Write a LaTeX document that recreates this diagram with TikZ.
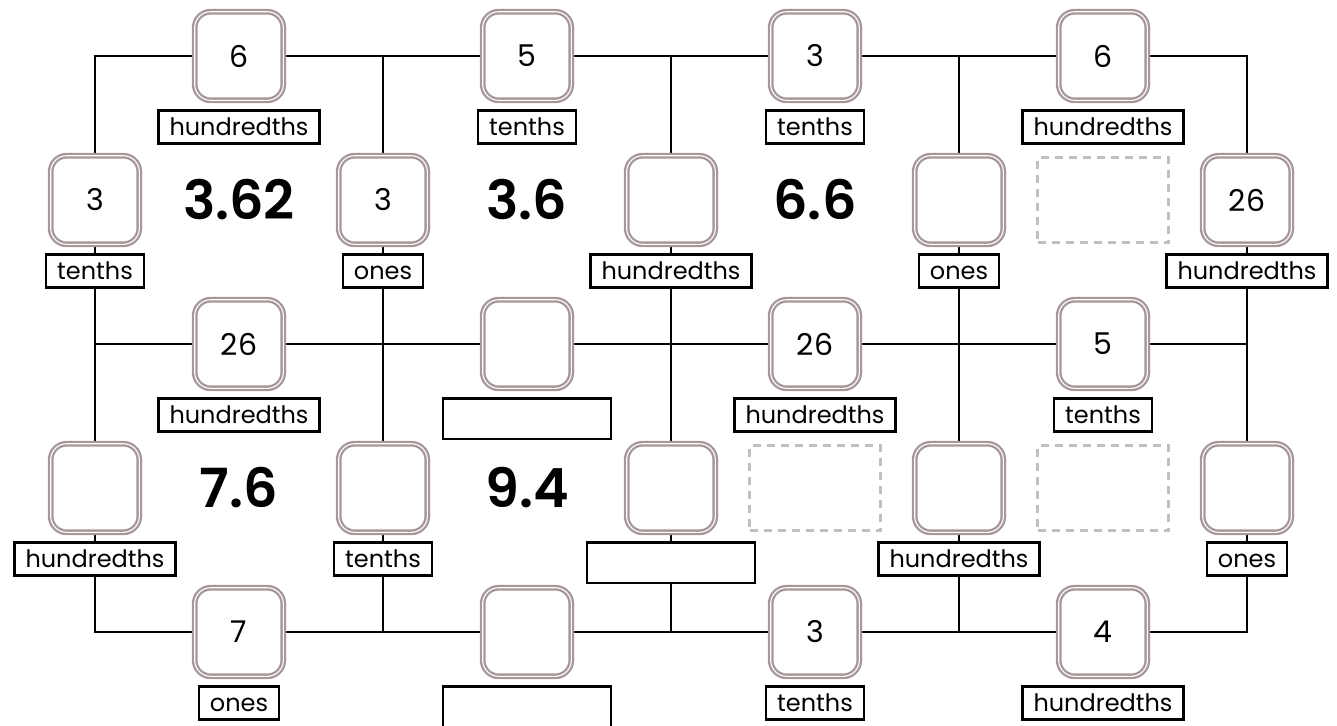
\documentclass[tikz,border=0pt]{standalone}
\usepackage{fontspec}
\setmainfont{Poppins}
\newfontfamily\bignumfont{Poppins SemiBold}
\usetikzlibrary{positioning,backgrounds}
\definecolor{framegray}{RGB}{166,152,152}
\definecolor{dashgray}{RGB}{192,192,192}

\begin{document}
\begin{tikzpicture}[x=0.5pt,y=-0.5pt,
  digitbox/.style={draw=framegray,double=white,line width=1.15pt,double distance=0.55pt,
    fill=white,rounded corners=8pt,minimum size=44.3pt,inner sep=0pt,
    font=\fontsize{15}{15}\selectfont},
  placelabel/.style={draw=black,line width=1.1pt,fill=white,text height=9.5pt,text depth=1pt,
    inner xsep=5.5pt,inner ysep=3pt,font=\fontsize{12}{12}\selectfont},
  blanklabel/.style={draw=black,line width=1.1pt,fill=white,minimum width=83.9pt,
    minimum height=20.4pt,inner sep=0pt},
  decimal/.style={font=\fontsize{27}{27}\bignumfont},
  ghost/.style={draw=dashgray,line width=1.1pt,dash pattern=on 4pt off 3pt,
    minimum width=65.5pt,minimum height=42.5pt},
  gridline/.style={black,line width=1.25pt,line cap=rect}]
  \useasboundingbox (0,0) rectangle (1337,725);

  % junctions of the grid
  \coordinate (jt1) at (95,56);  \coordinate (jt2) at (383,56);  \coordinate (jt3) at (671,56);
  \coordinate (jt4) at (959,56); \coordinate (jt5) at (1247,56);
  \coordinate (jc1) at (95,344);  \coordinate (jc2) at (383,344);  \coordinate (jc3) at (671,344);
  \coordinate (jc4) at (959,344); \coordinate (jc5) at (1247,344);
  \coordinate (jb1) at (95,632);  \coordinate (jb2) at (383,632);  \coordinate (jb3) at (671,632);
  \coordinate (jb4) at (959,632); \coordinate (jb5) at (1247,632);

  % top row
  \node[digitbox] (t1) at (239,56) {6};
  \node[placelabel,below=4pt of t1] (t1lab) {hundredths};
  \node[digitbox] (t2) at (527,56) {5};
  \node[placelabel,below=4pt of t2] (t2lab) {tenths};
  \node[digitbox] (t3) at (815,56) {3};
  \node[placelabel,below=4pt of t3] (t3lab) {tenths};
  \node[digitbox] (t4) at (1103,56) {6};
  \node[placelabel,below=4pt of t4] (t4lab) {hundredths};

  % upper column boxes
  \node[digitbox] (u1) at (95,200) {3};
  \node[placelabel,below=4pt of u1] (u1lab) {tenths};
  \node[digitbox] (u2) at (383,200) {3};
  \node[placelabel,below=4pt of u2] (u2lab) {ones};
  \node[digitbox] (u3) at (671,200) {};
  \node[placelabel,below=4pt of u3] (u3lab) {hundredths};
  \node[digitbox] (u4) at (959,200) {};
  \node[placelabel,below=4pt of u4] (u4lab) {ones};
  \node[digitbox] (u5) at (1247,200) {26};
  \node[placelabel,below=4pt of u5] (u5lab) {hundredths};

  % middle row
  \node[digitbox] (c1) at (239,344) {26};
  \node[placelabel,below=4pt of c1] (c1lab) {hundredths};
  \node[digitbox] (c2) at (527,344) {};
  \node[blanklabel,below=4pt of c2] (c2lab) {};
  \node[digitbox] (c3) at (815,344) {26};
  \node[placelabel,below=4pt of c3] (c3lab) {hundredths};
  \node[digitbox] (c4) at (1103,344) {5};
  \node[placelabel,below=4pt of c4] (c4lab) {tenths};

  % lower column boxes
  \node[digitbox] (l1) at (95,488) {};
  \node[placelabel,below=4pt of l1] (l1lab) {hundredths};
  \node[digitbox] (l2) at (383,488) {};
  \node[placelabel,below=4pt of l2] (l2lab) {tenths};
  \node[digitbox] (l3) at (671,488) {};
  \node[blanklabel,below=4pt of l3] (l3lab) {};
  \node[digitbox] (l4) at (959,488) {};
  \node[placelabel,below=4pt of l4] (l4lab) {hundredths};
  \node[digitbox] (l5) at (1247,488) {};
  \node[placelabel,below=4pt of l5] (l5lab) {ones};

  % bottom row
  \node[digitbox] (b1) at (239,632) {7};
  \node[placelabel,below=4pt of b1] (b1lab) {ones};
  \node[digitbox] (b2) at (527,632) {};
  \node[blanklabel,below=4pt of b2] (b2lab) {};
  \node[digitbox] (b3) at (815,632) {3};
  \node[placelabel,below=4pt of b3] (b3lab) {tenths};
  \node[digitbox] (b4) at (1103,632) {4};
  \node[placelabel,below=4pt of b4] (b4lab) {hundredths};

  % totals in the cells
  \node[decimal] (s11) at (239,200) {3.62};
  \node[decimal] (s12) at (527,200) {3.6};
  \node[decimal] (s13) at (815,200) {6.6};
  \node[ghost] (s14) at (1103,200) {};
  \node[decimal] (s21) at (239,488) {7.6};
  \node[decimal] (s22) at (527,488) {9.4};
  \node[ghost] (s23) at (815,488) {};
  \node[ghost] (s24) at (1103,488) {};

  \begin{scope}[on background layer]
    \draw[gridline] (jt1) -- (t1) -- (jt2) -- (t2) -- (jt3) -- (t3) -- (jt4) -- (t4) -- (jt5);
    \draw[gridline] (jc1) -- (c1) -- (jc2) -- (c2) -- (jc3) -- (c3) -- (jc4) -- (c4) -- (jc5);
    \draw[gridline] (jb1) -- (b1) -- (jb2) -- (b2) -- (jb3) -- (b3) -- (jb4) -- (b4) -- (jb5);
    \draw[gridline] (jt1) -- (u1) -- (jc1) -- (l1) -- (jb1);
    \draw[gridline] (jt2) -- (u2) -- (jc2) -- (l2) -- (jb2);
    \draw[gridline] (jt3) -- (u3) -- (jc3) -- (l3) -- (jb3);
    \draw[gridline] (jt4) -- (u4) -- (jc4) -- (l4) -- (jb4);
    \draw[gridline] (jt5) -- (u5) -- (jc5) -- (l5) -- (jb5);
  \end{scope}
\end{tikzpicture}
\end{document}
